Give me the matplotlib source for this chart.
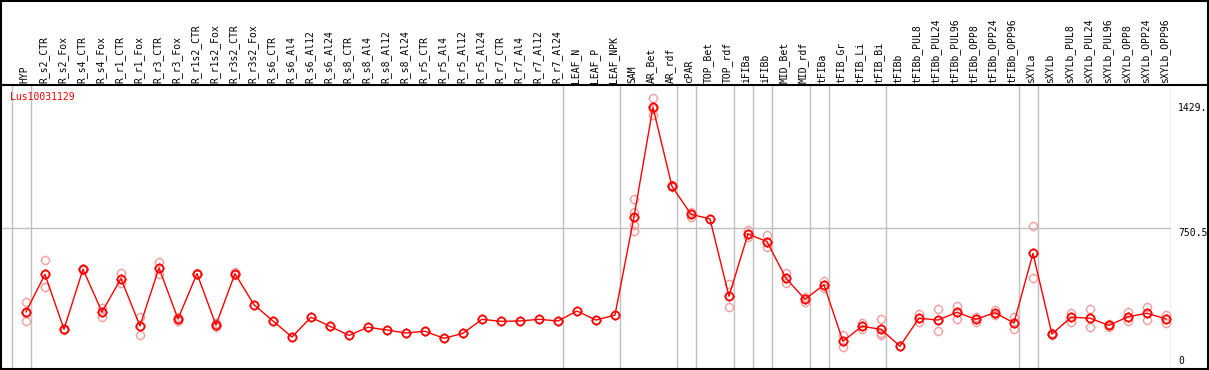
import numpy as np
import matplotlib
matplotlib.use('Agg')
import matplotlib.pyplot as plt
from matplotlib.path import Path
from matplotlib.patches import Rectangle
from matplotlib.lines import Line2D
import matplotlib.transforms as mtransforms

gene = 'Lus10031129'

samples = ['HYP', 'R_s2_CTR', 'R_s2_Fox', 'R_s4_CTR', 'R_s4_Fox', 'R_r1_CTR', 'R_r1_Fox',
           'R_r3_CTR', 'R_r3_Fox', 'R_r1s2_CTR', 'R_r1s2_Fox', 'R_r3s2_CTR', 'R_r3s2_Fox',
           'R_s6_CTR', 'R_s6_Al4', 'R_s6_Al12', 'R_s6_Al24', 'R_s8_CTR', 'R_s8_Al4',
           'R_s8_Al12', 'R_s8_Al24', 'R_r5_CTR', 'R_r5_Al4', 'R_r5_Al12', 'R_r5_Al24',
           'R_r7_CTR', 'R_r7_Al4', 'R_r7_Al12', 'R_r7_Al24', 'LEAF_N', 'LEAF_P', 'LEAF_NPK',
           'SAM', 'AR_Bet', 'AR_rdf', 'cPAR', 'TOP_Bet', 'TOP_rdf', 'iFIBa', 'iFIBb',
           'MID_Bet', 'MID_rdf', 'tFIBa', 'tFIB_Gr', 'tFIB_Li', 'tFIB_Bi', 'tFIBb',
           'tFIBb_PUL8', 'tFIBb_PUL24', 'tFIBb_PUL96', 'tFIBb_OPP8', 'tFIBb_OPP24',
           'tFIBb_OPP96', 'sXYLa', 'sXYLb', 'sXYLb_PUL8', 'sXYLb_PUL24', 'sXYLb_PUL96',
           'sXYLb_OPP8', 'sXYLb_OPP24', 'sXYLb_OPP96']

# mean expression per sample
means = [295, 499, 201, 527, 295, 476, 219, 534, 257, 503, 224, 503, 334,
         246, 159, 266, 217, 168, 212, 197, 181, 190, 152, 179, 255,
         244, 246, 255, 246, 300, 251, 278,
         810, 1406, 977, 825, 800, 380, 718, 677,
         478, 364, 442, 136, 217, 201, 109,
         261, 251, 293, 255, 291, 235,
         613, 175, 266, 261, 222, 269, 288, 257]

# replicate values (empty where they sit under the mean)
reps = [[349, 290, 246], [575, 429], [205, 197], [530, 524], [318, 269], [508, 450],
        [269, 168], [566, 503], [269, 244], [506, 500], [235, 213], [510, 496], [],
        [], [], [], [], [], [], [], [], [], [], [], [],
        [], [], [], [], [], [], [],
        [908, 838, 765, 736], [1455, 1366, 1397], [982, 972], [838, 812], [],
        [445, 320], [740, 700], [711, 649],
        [505, 451], [378, 350], [461, 423], [168, 106], [235, 200], [255, 179, 168], [],
        [284, 238], [309, 190], [327, 255], [269, 240], [305, 277], [266, 204],
        [760, 478], [170, 180], [291, 241], [311, 212], [230, 214], [296, 244],
        [324, 251], [277, 237]]

# group separators sit after these sample indices
group_ends = [-1, 0, 28, 31, 34, 35, 37, 38, 39, 41, 42, 45, 52, 53, 60]

ytick_vals = [0, 750.5, 1429]
ytick_text = ['0', '750.5', '1429.']

# circle marker with four small spikes
circ = Path.unit_circle()
spikes = Path([(0, 1), (0, 1.22), (0, -1), (0, -1.22), (1, 0), (1.22, 0), (-1, 0), (-1.22, 0)],
              [Path.MOVETO, Path.LINETO] * 4)
mark = Path.make_compound_path(circ, spikes)

W, H = 1209, 370
fig = plt.figure(figsize=(W / 100, H / 100), dpi=100)
ax = fig.add_axes([0, 1.5 / H, 1170.7 / W, (368.5 - 85) / H])
ax.set_xlim(-1.368, 60.25)
ax.set_ylim(-12, 1527)
for s in ax.spines.values():
    s.set_visible(False)
ax.set_xticks([])
ax.set_yticks([])

for g in group_ends:
    ax.axvline(g + 0.25, color='#c0c0c0', lw=1.0, zorder=1)
ax.axhline(750.5, color='#c0c0c0', lw=1.0, zorder=1)

x = np.arange(len(samples))
for i, r in enumerate(reps):
    if r:
        ax.plot([i] * len(r), r, linestyle='none', marker=mark, ms=7, mfc='none',
                mec='#f0a0a0', mew=1.0, zorder=2)
ax.plot(x, means, color='red', lw=1.0, zorder=3)
ax.plot(x, means, linestyle='none', marker=mark, ms=7, mfc='none', mec='red',
        mew=1.3, zorder=4)

mono = 'DejaVu Sans Mono'
lab_tr = mtransforms.blended_transform_factory(ax.transData, fig.transFigure)
for i, name in enumerate(samples):
    ax.text(i - 0.08, (H - 83) / H, name, rotation=90, ha='center', va='bottom',
            fontsize=7, family=mono, transform=lab_tr, clip_on=False)

tick_tr = mtransforms.blended_transform_factory(fig.transFigure, ax.transData)
for v, t in zip(ytick_vals, ytick_text):
    ax.text(1178 / W, v, t, ha='left', va='bottom' if v == 0 else 'top',
            fontsize=7, family=mono, transform=tick_tr, clip_on=False)

fig.text(10 / W, (H - 97) / H, gene, color='red', fontsize=7, family=mono,
         ha='left', va='center')

# outer frame and header line
fig.add_artist(Rectangle((0.5 / W, 1.5 / H), (W - 1.5) / W, (H - 2) / H,
                         transform=fig.transFigure, fill=False, ec='black', lw=1.5))
fig.add_artist(Line2D([0, 1], [(H - 85) / H] * 2, transform=fig.transFigure,
                      color='black', lw=1.5))

fig.savefig('out.png', dpi=100)
